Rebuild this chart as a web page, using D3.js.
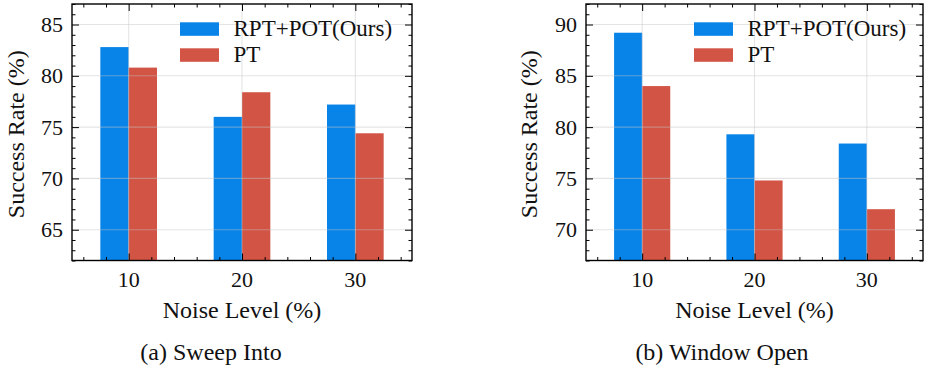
<!DOCTYPE html>
<html>
<head>
<meta charset="utf-8">
<script src="https://cdn.jsdelivr.net/npm/d3@7"></script>
<style>
  html, body { margin: 0; padding: 0; background: #fff; }
  svg { display: block; }
  svg text { font-family: "Liberation Serif", "Times New Roman", serif !important; }
</style>
</head>
<body>
<svg id="chart"></svg>
<script>
// data
const noiseLevels = [10, 20, 30];
const seriesNames = ['RPT+POT(Ours)', 'PT'];
const sweepOurs = [82.8, 76.0, 77.2];
const sweepPT = [80.8, 78.4, 74.4];
const windowOurs = [89.2, 79.3, 78.4];
const windowPT = [84.0, 74.8, 72.0];
const sweepTicks = [65, 70, 75, 80, 85];
const windowTicks = [70, 75, 80, 85, 90];
const captions = ['(a) Sweep Into', '(b) Window Open'];

const W = 927;
const H = 367;
const colors = ['#0884E9', '#D25445'];
const FS = 22;
const FONT = '"Liberation Serif", "Times New Roman", serif';

const svg = d3.select('#chart').attr('width', W).attr('height', H)
  .style('font-family', FONT);

const panels = [
  { left: 72, right: 412, yDomain: [62, 87], yMajor: sweepTicks, values: [sweepOurs, sweepPT],
    caption: captions[0], captionX: 211, yLabelX: 24, legendX: 180 },
  { left: 586, right: 923, yDomain: [67, 92], yMajor: windowTicks, values: [windowOurs, windowPT],
    caption: captions[1], captionX: 722, yLabelX: 537, legendX: 694 },
];
const plotTop = 4;
const plotBottom = 260.5;

function label(sel, size) {
  return sel.append('text')
    .attr('font-family', FONT)
    .attr('font-size', size || FS)
    .attr('fill', '#111');
}

function drawPanel(p) {
  const g = svg.append('g');
  const x = d3.scaleLinear().domain([5, 35]).range([p.left, p.right]);
  const y = d3.scaleLinear().domain(p.yDomain).range([plotBottom, plotTop]);
  const barW = 2.5; // in data units

  const xMinor = d3.range(6, 35, 2).filter((v) => v % 10 !== 0);
  const yMinor = d3.range(Math.ceil(p.yDomain[0]), p.yDomain[1] + 0.01, 1).filter((v) => v % 5 !== 0);

  // bars
  p.values.forEach((vals, si) => {
    g.append('g')
      .selectAll('rect')
      .data(vals)
      .enter()
      .append('rect')
      .attr('x', (d, i) => x(noiseLevels[i] + (si - 1) * barW))
      .attr('width', (d, i) => x(noiseLevels[i] + si * barW) - x(noiseLevels[i] + (si - 1) * barW))
      .attr('y', (d) => y(d))
      .attr('height', (d) => plotBottom - y(d))
      .attr('fill', colors[si]);
  });

  // grid, over the bars, semi transparent
  const grid = g.append('g').attr('stroke', '#c4c4c4').attr('stroke-opacity', 0.45).attr('stroke-width', 1.1);
  grid.selectAll('line.gx').data(noiseLevels).enter().append('line')
    .attr('x1', (d) => x(d)).attr('x2', (d) => x(d)).attr('y1', plotTop).attr('y2', plotBottom);
  grid.selectAll('line.gy').data(p.yMajor).enter().append('line')
    .attr('y1', (d) => y(d)).attr('y2', (d) => y(d)).attr('x1', p.left).attr('x2', p.right);

  // ticks, all pointing inward
  const tickAxis = (axis, tr) => {
    const a = g.append('g').attr('transform', tr).call(axis);
    a.select('.domain').remove();
    a.selectAll('line').attr('stroke', '#000').attr('stroke-width', 1);
    return a;
  };
  tickAxis(d3.axisBottom(x).tickValues(noiseLevels).tickSize(-7).tickFormat(''), `translate(0,${plotBottom})`);
  tickAxis(d3.axisBottom(x).tickValues(xMinor).tickSize(-3.5).tickFormat(''), `translate(0,${plotBottom})`);
  tickAxis(d3.axisTop(x).tickValues(noiseLevels).tickSize(-7).tickFormat(''), `translate(0,${plotTop})`);
  tickAxis(d3.axisTop(x).tickValues(xMinor).tickSize(-3.5).tickFormat(''), `translate(0,${plotTop})`);
  tickAxis(d3.axisLeft(y).tickValues(p.yMajor).tickSize(-7).tickFormat(''), `translate(${p.left},0)`);
  tickAxis(d3.axisLeft(y).tickValues(yMinor).tickSize(-3.5).tickFormat(''), `translate(${p.left},0)`);
  tickAxis(d3.axisRight(y).tickValues(p.yMajor).tickSize(-7).tickFormat(''), `translate(${p.right},0)`);
  tickAxis(d3.axisRight(y).tickValues(yMinor).tickSize(-3.5).tickFormat(''), `translate(${p.right},0)`);

  // frame
  g.append('rect')
    .attr('x', p.left).attr('y', plotTop)
    .attr('width', p.right - p.left).attr('height', plotBottom - plotTop)
    .attr('fill', 'none').attr('stroke', '#000').attr('stroke-width', 1.4);

  // tick labels
  const xl = g.append('g');
  noiseLevels.forEach((d) => {
    label(xl).attr('x', x(d)).attr('y', plotBottom + 26.5).attr('text-anchor', 'middle').text(d);
  });
  const yl = g.append('g');
  p.yMajor.forEach((d) => {
    label(yl).attr('x', p.left - 9).attr('y', y(d) + 7.6).attr('text-anchor', 'end').text(d);
  });

  // axis labels, a bit larger than Times to approach the width of the original font
  label(g, 24)
    .attr('x', (p.left + p.right) / 2).attr('y', 317.5)
    .attr('text-anchor', 'middle')
    .text('Noise Level (%)');
  label(g, 24)
    .attr('transform', `translate(${p.yLabelX},${(plotTop + plotBottom) / 2 + 2}) rotate(-90)`)
    .attr('text-anchor', 'middle')
    .text('Success Rate (%)');

  // legend
  const lg = g.append('g');
  seriesNames.forEach((name, i) => {
    const ry = 22.3 + i * 26;
    lg.append('rect')
      .attr('x', p.legendX).attr('y', ry)
      .attr('width', 39).attr('height', 13.5)
      .attr('fill', colors[i]);
    label(lg, 23)
      .attr('x', p.legendX + 53.5).attr('y', ry + 14)
      .text(name);
  });

  // caption
  label(g, 24)
    .attr('x', p.captionX).attr('y', 360)
    .attr('text-anchor', 'middle')
    .text(p.caption);
}

panels.forEach(drawPanel);
</script>
</body>
</html>
